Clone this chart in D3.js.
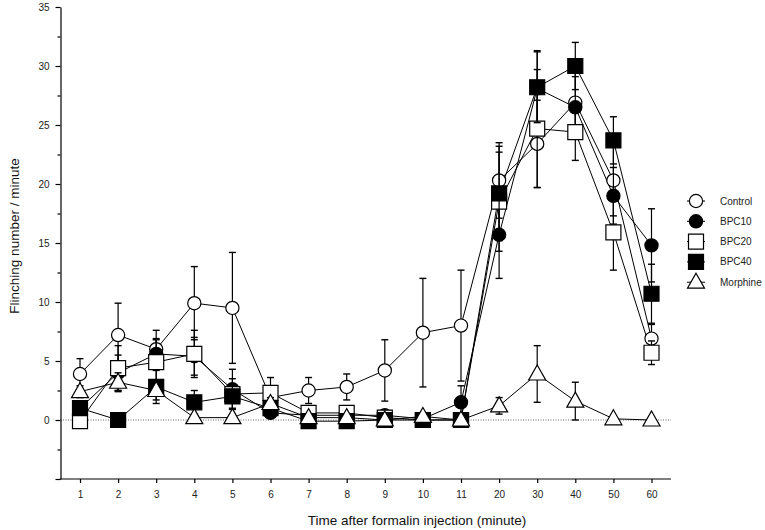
<!DOCTYPE html>
<html>
<head>
<meta charset="utf-8">
<script src="https://cdn.jsdelivr.net/npm/d3@7"></script>
<style>
  body { margin: 0; background: #fff; }
  svg { font-family: Arial, "Liberation Sans", sans-serif; }
</style>
</head>
<body>
<svg id="chart" width="765" height="530"></svg>
<script>
// time points (minutes after formalin injection)
var categories = ["1", "2", "3", "4", "5", "6", "7", "8", "9", "10", "11", "20", "30", "40", "50", "60"];

var controlMean = [3.9, 7.2, 6.0, 9.9, 9.5, 1.9, 2.5, 2.8, 4.2, 7.4, 8.0, 20.3, 23.4, 26.9, 20.3, 6.9];
var controlErr  = [1.3, 2.7, 1.6, 3.1, 4.7, 0.6, 1.1, 1.1, 2.6, 4.6, 4.7, 3.2, 3.7, 2.5, 3.0, 1.2];

var bpc10Mean = [1.0, 4.0, 5.6, 5.4, 2.6, 0.6, 0.4, 0.4, 0.4, 0.1, 1.5, 15.7, 28.1, 26.5, 19.0, 14.8];
var bpc10Err  = [0.5, 1.5, 1.2, 1.6, 1.7, 0.3, 0.3, 0.3, 0.3, 0.1, 1.4, 3.7, 3.2, 2.6, 2.4, 3.1];

var bpc20Mean = [-0.1, 4.4, 4.9, 5.6, 2.2, 2.3, 0.6, 0.6, 0.2, 0.0, 0.0, 18.5, 24.7, 24.4, 15.9, 5.7];
var bpc20Err  = [0.6, 1.9, 2.0, 2.0, 1.3, 1.3, 0.5, 0.5, 0.3, 0.0, 0.0, 4.2, 5.0, 2.4, 3.2, 1.0];

var bpc40Mean = [1.0, 0.0, 2.8, 1.5, 2.0, 1.0, -0.1, -0.1, 0.0, 0.0, 0.0, 19.2, 28.2, 30.0, 23.7, 10.7];
var bpc40Err  = [0.6, 0.0, 1.4, 1.0, 1.0, 0.4, 0.2, 0.2, 0.0, 0.0, 0.0, 4.0, 3.0, 2.0, 2.0, 2.5];

var morphineMean = [2.4, 3.2, 2.5, 0.2, 0.2, 1.4, 0.2, 0.2, 0.0, 0.3, 0.0, 1.2, 3.9, 1.6, 0.1, 0.0];
var morphineErr  = [0.5, 0.8, 0.8, 0.2, 0.1, 0.5, 0.1, 0.1, 0.0, 0.1, 0.0, 0.7, 2.4, 1.6, 0.0, 0.0];

var yTicks = [-5, -2.5, 0, 2.5, 5, 7.5, 10, 12.5, 15, 17.5, 20, 22.5, 25, 27.5, 30, 32.5, 35];

var series = [
    { name: "Control",  mean: controlMean,  err: controlErr,  shape: "circle",   fill: "#fff" },
    { name: "BPC10",    mean: bpc10Mean,    err: bpc10Err,    shape: "circle",   fill: "#000" },
    { name: "BPC20",    mean: bpc20Mean,    err: bpc20Err,    shape: "square",   fill: "#fff" },
    { name: "BPC40",    mean: bpc40Mean,    err: bpc40Err,    shape: "square",   fill: "#000" },
    { name: "Morphine", mean: morphineMean, err: morphineErr, shape: "triangle", fill: "#fff" }
];

var svg = d3.select("#chart");

var plotLeft = 60.5, plotRight = 671, plotTop = 7, plotBottom = 479;

var x = d3.scalePoint()
    .domain(categories)
    .range([80, 651.5]);

var y = d3.scaleLinear()
    .domain([-5, 35])
    .range([plotBottom, plotTop]);

function symbolPath(shape) {
    if (shape == "circle") return d3.symbol().type(d3.symbolCircle).size(Math.PI * 6.6 * 6.6)();
    if (shape == "square") return "M-7.5,-7.5H7.5V7.5H-7.5Z";
    return "M0,-9L8.5,6H-8.5Z";
}

// dotted zero line
svg.append("line")
    .attr("x1", plotLeft).attr("x2", plotRight)
    .attr("y1", y(0)).attr("y2", y(0))
    .attr("stroke", "#666")
    .attr("stroke-width", 1)
    .attr("stroke-dasharray", "1,1.5");

// y axis
var yAxis = d3.axisLeft(y)
    .tickValues(yTicks)
    .tickSizeOuter(0)
    .tickFormat(function (d) { return (d >= 0 && d % 5 === 0) ? d : ""; });

var gy = svg.append("g")
    .attr("transform", "translate(" + plotLeft + ",0)")
    .call(yAxis);
gy.select(".domain").attr("stroke", "#000").attr("stroke-width", 1.2);
gy.selectAll(".tick line")
    .attr("x2", function (d) { return d % 5 === 0 ? -5 : -3; })
    .attr("stroke-width", 1.2);
gy.selectAll(".tick text")
    .attr("x", -11)
    .attr("font-size", "10px")
    .attr("font-family", "Arial, 'Liberation Sans', sans-serif")
    .attr("fill", "#222");

// x axis
var xAxis = d3.axisBottom(x).tickSize(4).tickSizeOuter(0);
var gx = svg.append("g")
    .attr("transform", "translate(0," + plotBottom + ")")
    .call(xAxis);
gx.select(".domain").remove();
gx.selectAll(".tick line").attr("stroke-width", 1.2);
gx.selectAll(".tick text")
    .attr("y", 12)
    .attr("font-size", "10px")
    .attr("font-family", "Arial, 'Liberation Sans', sans-serif")
    .attr("fill", "#222");
svg.append("line")
    .attr("x1", plotLeft - 0.6).attr("x2", plotRight)
    .attr("y1", plotBottom).attr("y2", plotBottom)
    .attr("stroke", "#000")
    .attr("stroke-width", 1.2);

// axis titles
svg.append("text")
    .attr("x", 417)
    .attr("y", 525)
    .attr("text-anchor", "middle")
    .attr("font-size", "13.5px")
    .attr("fill", "#111")
    .text("Time after formalin injection (minute)");

svg.append("text")
    .attr("transform", "translate(19,236) rotate(-90)")
    .attr("text-anchor", "middle")
    .attr("font-size", "13.5px")
    .attr("fill", "#111")
    .text("Flinching number / minute");

var line = d3.line()
    .x(function (d, i) { return x(categories[i]); })
    .y(function (d) { return y(d); });

// connecting lines
series.forEach(function (s) {
    svg.append("path")
        .datum(s.mean)
        .attr("d", line)
        .attr("fill", "none")
        .attr("stroke", "#000")
        .attr("stroke-width", 1);
});

// error bars + symbols, series by series
series.forEach(function (s) {
    var g = svg.append("g");
    s.mean.forEach(function (m, i) {
        var e = s.err[i];
        if (e <= 0) return;
        var cx = x(categories[i]);
        g.append("line")
            .attr("x1", cx).attr("x2", cx)
            .attr("y1", y(m - e)).attr("y2", y(m + e))
            .attr("stroke", "#000").attr("stroke-width", 1.2);
        [m - e, m + e].forEach(function (v) {
            g.append("line")
                .attr("x1", cx - 3.5).attr("x2", cx + 3.5)
                .attr("y1", y(v)).attr("y2", y(v))
                .attr("stroke", "#000").attr("stroke-width", 1.4);
        });
    });
    g.selectAll("path.sym")
        .data(s.mean)
        .enter().append("path")
        .attr("class", "sym")
        .attr("d", symbolPath(s.shape))
        .attr("transform", function (d, i) { return "translate(" + x(categories[i]) + "," + y(d) + ")"; })
        .attr("fill", s.fill)
        .attr("stroke", "#000")
        .attr("stroke-width", 1.2);
});

// legend
var legend = svg.append("g").attr("transform", "translate(0,201)");
series.forEach(function (s, i) {
    var ly = i * 20.3;
    legend.append("line")
        .attr("x1", 687).attr("x2", 705)
        .attr("y1", ly).attr("y2", ly)
        .attr("stroke", "#000").attr("stroke-width", 1);
    legend.append("path")
        .attr("d", symbolPath(s.shape))
        .attr("transform", "translate(696," + ly + ")")
        .attr("fill", s.fill)
        .attr("stroke", "#000")
        .attr("stroke-width", 1.2);
    legend.append("text")
        .attr("x", 720)
        .attr("y", ly)
        .attr("dy", "0.35em")
        .attr("font-size", "10px")
        .attr("fill", "#222")
        .text(s.name);
});
</script>
</body>
</html>
